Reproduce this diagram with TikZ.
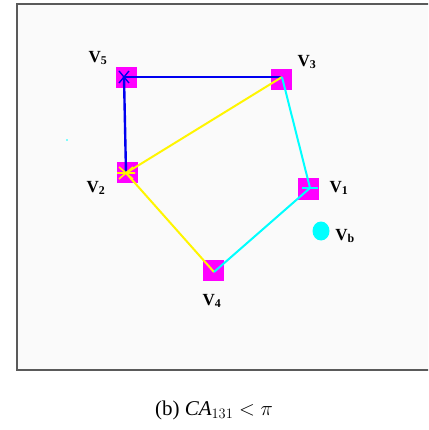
\documentclass[tikz,border=0pt]{standalone}
\usepackage{fontspec}
\setmainfont{Liberation Serif}
\usetikzlibrary{calc,shapes.geometric}
\definecolor{mag}{RGB}{255,0,255}
\definecolor{cya}{RGB}{0,255,255}
\definecolor{yel}{RGB}{255,245,0}
\definecolor{blu}{RGB}{0,0,240}
\begin{document}
\begin{tikzpicture}[x=1pt,y=-1pt,
  vsq/.style={fill=mag,draw=none,minimum size=21pt,inner sep=0pt},
  vlab/.style={font=\bfseries\fontsize{17}{19}\selectfont,inner sep=0pt},
  bl/.style={draw=blu,line width=2.4pt},
  ye/.style={draw=yel,line width=2pt},
  cy/.style={draw=cya,line width=2pt}]
\useasboundingbox (0,0) rectangle (428,430);
\fill[white] (0,0) rectangle (428,430);
\begin{scope}
\clip (0,0) rectangle (428,430);
\draw[fill={rgb,255:red,250;green,250;blue,250},draw={rgb,255:red,90;green,90;blue,90},line width=2pt] (17,4) rectangle (445,370);
\end{scope}
\node[vsq] (s5) at (126,78) {};
\node[vsq] (s3) at (281,80) {};
\node[vsq] (s2) at (127,173) {};
\node[vsq] (s1) at (308,189) {};
\node[vsq] (s4) at (213,270) {};
\coordinate (v5) at (124,77);
\coordinate (v3) at (282,77);
\coordinate (v2) at (126,173);
\coordinate (v1) at (310,188);
\coordinate (v4) at (214,272);
\draw[bl] (v5) -- (v3);
\draw[bl] (v5) -- (v2);
\draw[ye] (v3) -- (v2);
\draw[ye] (v2) -- (v4);
\draw[cy] (v3) -- (v1);
\draw[cy] (v1) -- (v4);
% markers
\draw[cy,line width=1.6pt] ($(v1)+(-8,0)$) -- ($(v1)+(8,0)$);
\draw[ye,line width=1.6pt] ($(v2)+(-7,-6)$) -- ($(v2)+(7,6)$) ($(v2)+(-7,6)$) -- ($(v2)+(7,-6)$) ($(v2)+(-9,0)$) -- ($(v2)+(9,0)$);
\draw[bl,line width=1.4pt] ($(v5)+(-5,-6)$) -- ($(v5)+(5,6)$) ($(v5)+(-5,6)$) -- ($(v5)+(5,-6)$);
\node[ellipse,fill=cya,minimum width=17pt,minimum height=19pt,inner sep=0pt] (vb) at (321,231) {};
\fill[cya] (67,140) circle (0.8pt);
\node[vlab] (l5) at (98,58) {V\textsubscript{5}};
\node[vlab] (l3) at (307,62) {V\textsubscript{3}};
\node[vlab] (l2) at (96,188) {V\textsubscript{2}};
\node[vlab] (l1) at (339,188) {V\textsubscript{1}};
\node[vlab] (lb) at (345,236) {V\textsubscript{b}};
\node[vlab] (l4) at (212,301) {V\textsubscript{4}};
\node[font=\fontsize{21}{24}\selectfont,inner sep=0pt] (cap) at (214,410) {(b) $\mathit{CA}_{131} < \pi$};
\end{tikzpicture}
\end{document}
